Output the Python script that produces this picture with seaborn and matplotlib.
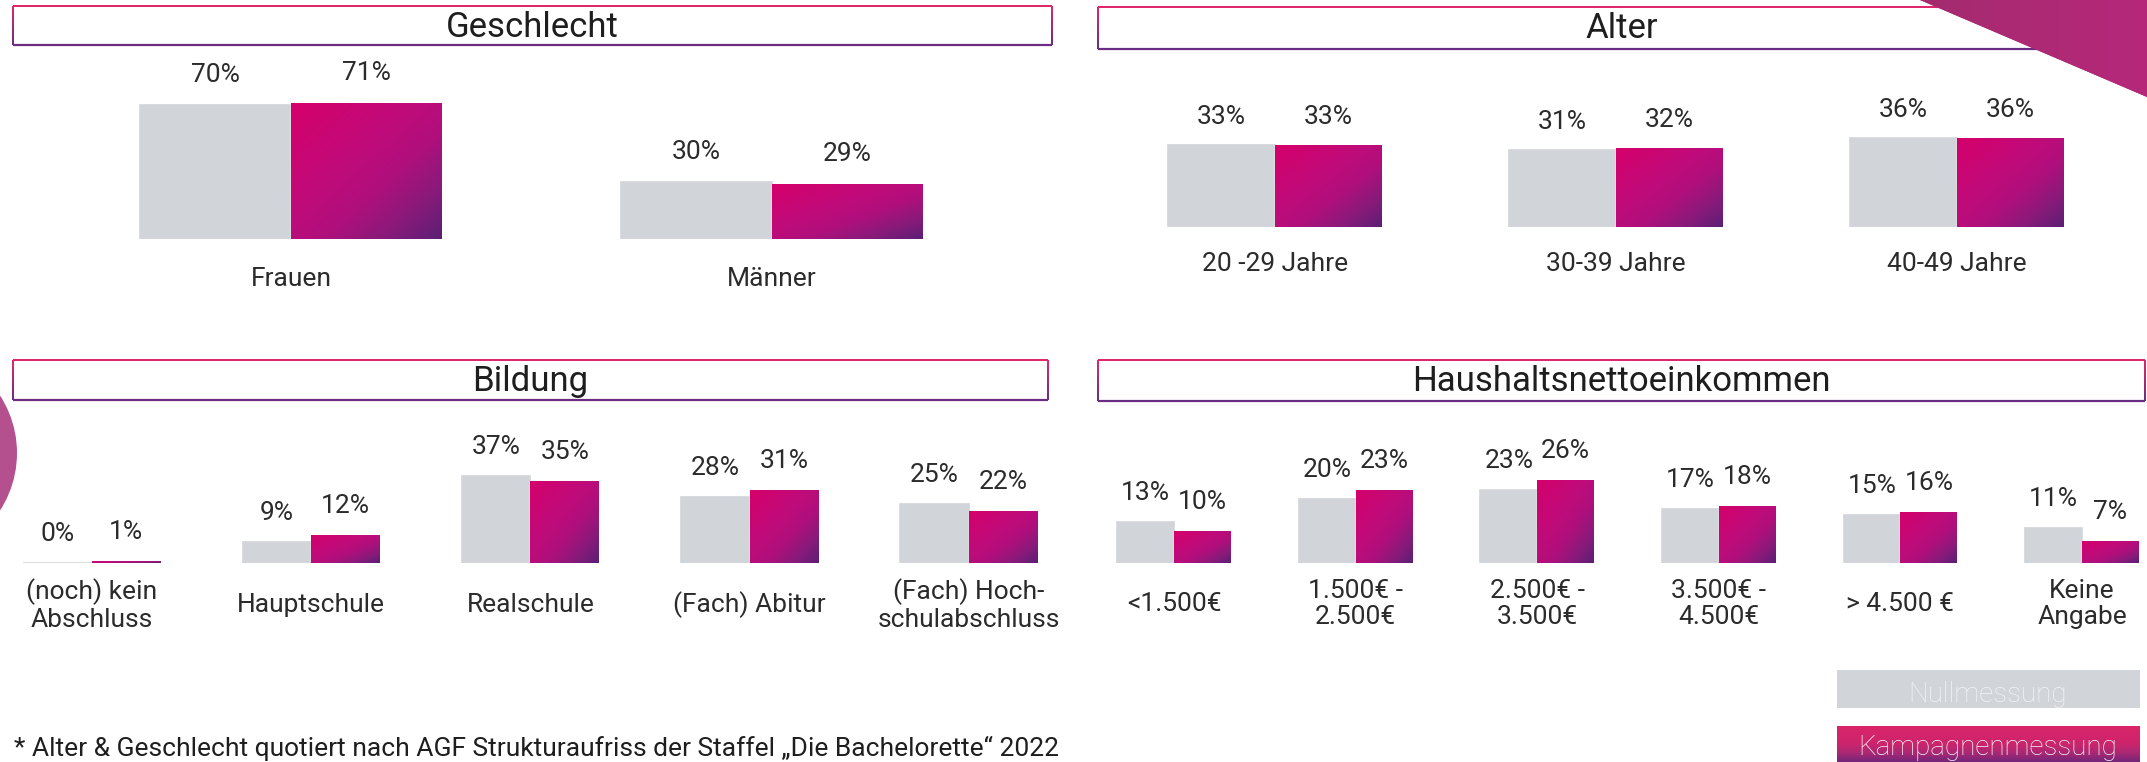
import numpy as np
import pandas as pd
import seaborn as sns
import matplotlib
matplotlib.use("Agg")
import matplotlib.pyplot as plt
from matplotlib.colors import LinearSegmentedColormap
from matplotlib.patches import Rectangle, Polygon, Circle
from matplotlib.collections import LineCollection

# ---------------- data ----------------
series = ["Nullmessung", "Kampagnenmessung"]

geschlecht_cats = ["Frauen", "Männer"]
geschlecht_null = [70, 30]
geschlecht_kamp = [71, 29]

alter_cats = ["20 -29 Jahre", "30-39 Jahre", "40-49 Jahre"]
alter_null = [33, 31, 36]
alter_kamp = [33, 32, 36]

bildung_cats = ["(noch) kein\nAbschluss", "Hauptschule", "Realschule",
                "(Fach) Abitur", "(Fach) Hoch-\nschulabschluss"]
bildung_null = [0, 9, 37, 28, 25]
bildung_kamp = [1, 12, 35, 31, 22]

einkommen_cats = ["<1.500€", "1.500€ -\n2.500€", "2.500€ -\n3.500€",
                  "3.500€ -\n4.500€", "> 4.500 €", "Keine\nAngabe"]
einkommen_null = [13, 20, 23, 17, 15, 11]
einkommen_kamp = [10, 23, 26, 18, 16, 7]

titles = ["Geschlecht", "Alter", "Bildung", "Haushaltsnettoeinkommen"]
footnote = "* Alter & Geschlecht quotiert nach AGF Strukturaufriss der Staffel „Die Bachelorette“ 2022"

# ---------------- style ----------------
sns.set_theme(style="white")
plt.rcParams["font.family"] = ["Roboto", "DejaVu Sans"]

GREY = "#D1D5D9"
PINK = "#C70A78"
TEXT = "#1E1E1E"
LABEL = "#2B2B2B"
TOPC = "#E0276B"
BOTC = "#6C2C84"
PX = 72 / 100  # points per pixel

W, H = 2147, 762
fig = plt.figure(figsize=(W / 100, H / 100), dpi=100)
fig.patch.set_facecolor("white")

bar_cmap = LinearSegmentedColormap.from_list(
    "bar", [(0, "#D5006B"), (0.4, "#C00B7A"), (0.6, "#B00F7C"),
            (0.8, "#8A1A7A"), (1, "#5C1F75")])
gu = np.linspace(0, 1, 120)[None, :]
gv = np.linspace(0, 1, 120)[:, None]
diag = (gu + gv) / 2


def panel(cats, null, kamp, c0, sp, yb, k, ymax, lab_pad, val_pad):
    n = len(cats)
    ax = fig.add_axes([(c0 - sp / 2) / W, (H - yb) / H, n * sp / W, ymax * k / H])
    df = pd.DataFrame({
        "Kategorie": list(cats) * 2,
        "Anteil": list(null) + list(kamp),
        "Messung": [series[0]] * n + [series[1]] * n,
    })
    sns.barplot(data=df, x="Kategorie", y="Anteil", hue="Messung",
                order=cats, hue_order=series, palette=[GREY, PINK],
                width=0.626, gap=0, saturation=1, errorbar=None,
                legend=False, ax=ax)
    for bar in ax.containers[0]:
        bar.set_edgecolor(GREY)
        bar.set_linewidth(1.2)
    for bar in ax.containers[1]:
        x0, y0 = bar.get_x(), bar.get_y()
        w, h = bar.get_width(), bar.get_height()
        im = ax.imshow(diag, cmap=bar_cmap, vmin=0, vmax=1, origin="upper",
                       extent=(x0, x0 + w, y0, y0 + h), aspect="auto",
                       interpolation="bilinear", zorder=bar.get_zorder() + 0.1)
        im.set_clip_path(bar)
    for cont in ax.containers:
        ax.bar_label(cont, fmt="{:.0f}%", padding=val_pad * PX,
                     fontsize=19, color=LABEL)
    ax.set_xlim(-0.5, n - 0.5)
    ax.set_ylim(0, ymax)
    ax.set_yticks([])
    ax.set_xlabel("")
    ax.set_ylabel("")
    ax.set_xticks(range(n))
    ax.set_xticklabels(cats, va="center", linespacing=1.15)
    ax.tick_params(axis="x", length=0, pad=lab_pad * PX, labelsize=19,
                   labelcolor=LABEL)
    for s in ax.spines.values():
        s.set_visible(False)
    ax.patch.set_alpha(0)
    return ax


panel(geschlecht_cats, geschlecht_null, geschlecht_kamp,
      c0=291, sp=481, yb=239, k=1.91, ymax=75, lab_pad=40, val_pad=18)
panel(alter_cats, alter_null, alter_kamp,
      c0=1275, sp=341, yb=227, k=2.47, ymax=40, lab_pad=37, val_pad=16)
panel(bildung_cats, bildung_null, bildung_kamp,
      c0=92, sp=219.2, yb=563, k=2.35, ymax=40, lab_pad=42, val_pad=17)
panel(einkommen_cats, einkommen_null, einkommen_kamp,
      c0=1174, sp=181.6, yb=563, k=3.19, ymax=30, lab_pad=41, val_pad=17)

# ---------------- overlay (headers, decorations, legend) ----------------
ov = fig.add_axes([0, 0, 1, 1])
ov.set_xlim(0, W)
ov.set_ylim(H, 0)
ov.axis("off")
ov.patch.set_alpha(0)

side_cmap = LinearSegmentedColormap.from_list("side", [TOPC, BOTC])


def header(x0, x1, y0, y1, title):
    ov.plot([x0, x1], [y0, y0], color=TOPC, lw=2 * PX, solid_capstyle="butt")
    ov.plot([x0, x1], [y1, y1], color=BOTC, lw=2.2 * PX, solid_capstyle="butt")
    ys = np.linspace(y0, y1, 30)
    for xx in (x0, x1):
        segs = [[(xx, ys[i]), (xx, ys[i + 1])] for i in range(len(ys) - 1)]
        lc = LineCollection(segs, colors=side_cmap(np.linspace(0, 1, len(segs))),
                            linewidths=2 * PX)
        ov.add_collection(lc)
    ov.text((x0 + x1) / 2, y0 + 31, title, ha="center", va="baseline",
            fontsize=25, color=TEXT)


header(13, 1052, 6, 45, titles[0])
header(1098, 2145, 7, 49, titles[1])
header(13, 1048, 360, 400, titles[2])
header(1098, 2145, 360, 401, titles[3])

# decorative corner triangle
tri = Polygon([(1920, 0), (W, 0), (W, 97)], closed=True, facecolor="#AE2A74",
              edgecolor="none", zorder=5)
ov.add_patch(tri)
tri_cmap = LinearSegmentedColormap.from_list("tri", ["#A42B6E", "#B6287A"])
tim = ov.imshow(np.linspace(0, 1, 100)[None, :], cmap=tri_cmap,
                extent=(1920, W, 97, 0), aspect="auto", zorder=6)
tim.set_clip_path(tri)

# decorative circle on the left edge
circ = Circle((-89, 453), 106, facecolor="#B5508F", edgecolor="none", zorder=5)
ov.add_patch(circ)

# legend boxes
ov.add_patch(Rectangle((1837, 670), 303, 38, facecolor=GREY, edgecolor="none"))
ov.text(1988, 702, series[0], ha="center", va="baseline", fontsize=20,
        color="#F4F4F4", fontweight="light")
leg_cmap = LinearSegmentedColormap.from_list(
    "leg", [(0, "#DA2469"), (0.5, "#CC256D"), (0.75, "#A92873"), (1, "#742679")])
ov.imshow(np.linspace(0, 1, 100)[:, None], cmap=leg_cmap,
          extent=(1837, 2140, 762, 726), origin="upper", aspect="auto", zorder=2)
ov.text(1988, 755, series[1], ha="center", va="baseline", fontsize=20,
        color="#F7F7F7", fontweight="light", zorder=3)

ov.set_xlim(0, W)
ov.set_ylim(H, 0)

# footnote
ov.text(14, 756, footnote, ha="left", va="baseline", fontsize=19, color=TEXT)

fig.savefig("out.png", dpi=100, facecolor="white")
